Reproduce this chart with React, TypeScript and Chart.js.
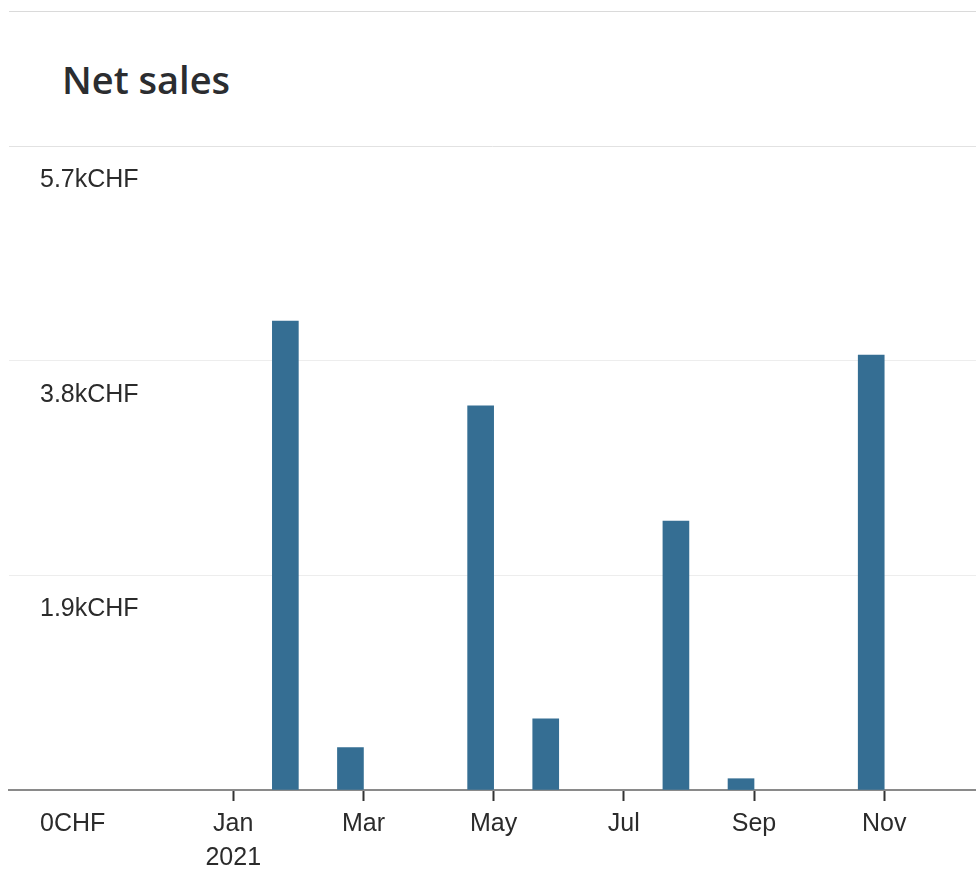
import React, { useEffect, useRef } from 'react';
import { Chart, registerables } from 'chart.js';

Chart.register(...registerables);

// ---- data ----
const months = ['Jan', 'Feb', 'Mar', 'Apr', 'May', 'Jun', 'Jul', 'Aug', 'Sep', 'Oct', 'Nov', 'Dec'];
const monthIndex = [0, 1, 2, 3, 4, 5, 6, 7, 8, 9, 10, 11];
// null = no sales recorded that month
const netSales: (number | null)[] = [4150, 375, null, 3400, 630, null, 2380, 100, null, 3850, null, null];

const xTickMonths = [0, 2, 4, 6, 8, 10];
const xTickLabels: (string | string[])[] = [['Jan', '2021'], 'Mar', 'May', 'Jul', 'Sep', 'Nov'];
const yTickValues = [0, 1900, 3800, 5700];
const yTickLabels = ['0CHF', '1.9kCHF', '3.8kCHF', '5.7kCHF'];

const xMin = -3.445;
const xMax = 11.41;

const TICK_FONT = { family: '"Liberation Sans", Arial, sans-serif', size: 25, lineHeight: 1.36 };

// bars sit at the end of their month band (right edge on the next month's tick)
const alignBarsToPeriodEnd = {
  id: 'alignBarsToPeriodEnd',
  afterDatasetsUpdate(chart: any) {
    const xScale = chart.scales.x;
    const meta = chart.getDatasetMeta(0);
    meta.data.forEach((el: any, i: number) => {
      const end = xScale.getPixelForValue(monthIndex[i] + 1);
      el.x = end - el.width / 2;
    });
  },
};

export default function App() {
  const canvasRef = useRef<HTMLCanvasElement | null>(null);

  useEffect(() => {
    if (!canvasRef.current) return;
    const chart = new Chart(canvasRef.current, {
      type: 'bar',
      data: {
        labels: months,
        datasets: [
          {
            label: 'Net sales',
            data: monthIndex.map((m, i) => ({ x: m, y: netSales[i] })),
            backgroundColor: '#356e93',
            borderWidth: 0,
            barThickness: 26,
          },
        ],
      },
      plugins: [alignBarsToPeriodEnd],
      options: {
        responsive: false,
        animation: false,
        layout: { padding: { top: 146, left: 9, right: 0, bottom: 0 } },
        plugins: {
          legend: { display: false },
          tooltip: { enabled: false },
          title: { display: false },
        },
        scales: {
          x: {
            type: 'linear',
            min: xMin,
            max: xMax,
            offset: false,
            grid: {
              display: true,
              offset: false,
              drawOnChartArea: false,
              drawTicks: true,
              tickLength: 11,
              tickColor: '#333333',
              tickWidth: 2,
            },
            border: { display: true, color: '#8a8a8a', width: 2 },
            afterBuildTicks: (axis: any) => {
              axis.ticks = xTickMonths.map((v) => ({ value: v }));
            },
            afterFit: (axis: any) => {
              axis.height = 81;
            },
            ticks: {
              autoSkip: false,
              maxRotation: 0,
              minRotation: 0,
              padding: 6,
              color: '#2b2b2b',
              font: TICK_FONT,
              callback: (_v: any, i: number) => xTickLabels[i],
            },
          },
          y: {
            type: 'linear',
            min: 0,
            max: 5700,
            afterBuildTicks: (axis: any) => {
              axis.ticks = yTickValues.map((v) => ({ value: v }));
            },
            afterFit: (axis: any) => {
              axis.width = 0;
            },
            grid: {
              drawTicks: false,
              lineWidth: 1,
              color: (ctx: any) => (ctx.tick && ctx.tick.value === 5700 ? '#e2e2e2' : '#ededed'),
            },
            border: { display: false },
            ticks: {
              mirror: true,
              padding: 31,
              labelOffset: 34,
              color: '#2b2b2b',
              font: TICK_FONT,
              callback: (_v: any, i: number) => yTickLabels[i],
            },
          },
        },
      } as any,
    });
    return () => chart.destroy();
  }, []);

  return (
    <div
      style={{
        position: 'fixed',
        left: 0,
        top: 0,
        width: 976,
        height: 871,
        background: '#ffffff',
        overflow: 'hidden',
      }}
    >
      <div
        style={{
          position: 'absolute',
          left: 9,
          right: 0,
          top: 11,
          height: 1,
          background: '#dadada',
        }}
      />
      <div
        style={{
          position: 'absolute',
          left: 62,
          top: 59,
          fontFamily: '"Open Sans", "Noto Sans", sans-serif',
          fontWeight: 600,
          fontSize: 38,
          lineHeight: '40px',
          color: '#2b2d30',
          whiteSpace: 'nowrap',
        }}
      >
        Net sales
      </div>
      <canvas
        ref={canvasRef}
        width={976}
        height={871}
        style={{ position: 'absolute', left: 0, top: 0, width: 976, height: 871 }}
      />
    </div>
  );
}
